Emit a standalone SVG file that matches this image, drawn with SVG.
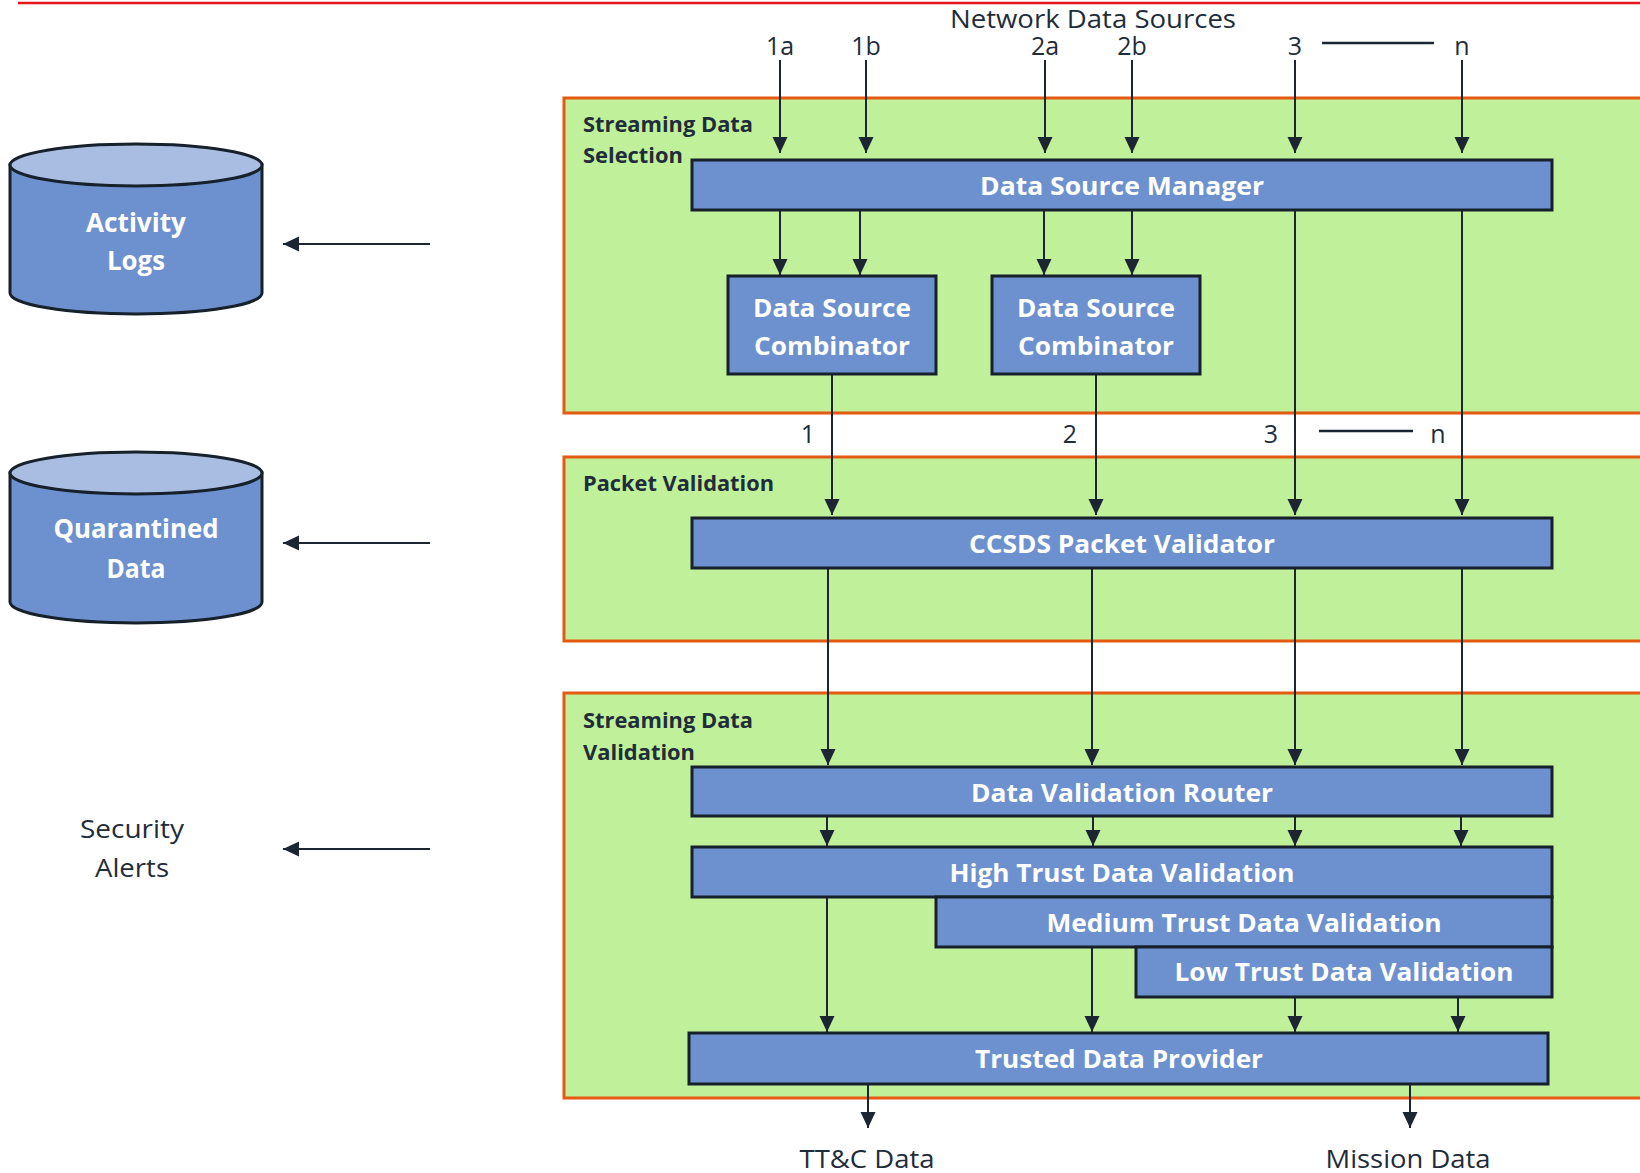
<svg xmlns="http://www.w3.org/2000/svg" width="1640" height="1173" viewBox="0 0 1640 1173">
<defs>
<style>
.sec{fill:#C0F09A;stroke:#E35A10;stroke-width:3}
.box{fill:#6D91CF;stroke:#17212B;stroke-width:3}
.bt{font-family:"Open Sans","Noto Sans",sans-serif;font-weight:bold;font-size:25px;fill:#FFFFFF;text-anchor:middle}
.ct{font-family:"Open Sans","Noto Sans",sans-serif;font-weight:bold;font-size:27px;fill:#FFFFFF;text-anchor:middle}
.st{font-family:"Open Sans","Noto Sans",sans-serif;font-weight:bold;font-size:21px;fill:#1F2D3A}
.lt{font-family:"Open Sans","Noto Sans",sans-serif;font-size:25px;fill:#1F2D3A;text-anchor:middle}
.cn{stroke:#1B2632;stroke-width:2;fill:none}
.ar{marker-end:url(#ah)}
.cyl{fill:#6D91CF;stroke:#17212B;stroke-width:3}
.cylt{fill:#A9BDE3;stroke:#17212B;stroke-width:3}
</style>
<marker id="ah" markerUnits="userSpaceOnUse" markerWidth="16" markerHeight="16" viewBox="0 0 16 16" refX="16" refY="8" orient="auto">
<path d="M0,0.5 L16,8 L0,15.5 z" fill="#1B2632"/>
</marker>
</defs>
<rect width="1640" height="1173" fill="#FFFFFF"/>
<line x1="18" y1="3" x2="1640" y2="3" stroke="#E8141B" stroke-width="2.5"/>

<g id="sections">
<rect id="sec-selection" class="sec" x="564" y="98" width="1100" height="315"/>
<rect id="sec-packet" class="sec" x="564" y="457" width="1100" height="184"/>
<rect id="sec-validation" class="sec" x="564" y="693" width="1100" height="405"/>
<text class="st" x="583" y="132" textLength="170" lengthAdjust="spacingAndGlyphs">Streaming Data</text>
<text class="st" x="583" y="163" textLength="100" lengthAdjust="spacingAndGlyphs">Selection</text>
<text class="st" x="583" y="491" textLength="191" lengthAdjust="spacingAndGlyphs">Packet Validation</text>
<text class="st" x="583" y="728" textLength="170" lengthAdjust="spacingAndGlyphs">Streaming Data</text>
<text class="st" x="583" y="760" textLength="112" lengthAdjust="spacingAndGlyphs">Validation</text>
</g>

<g id="labels">
<text class="lt" x="1093" y="28" textLength="286" lengthAdjust="spacingAndGlyphs">Network Data Sources</text>
<text class="lt" x="780" y="55">1a</text>
<text class="lt" x="866" y="55">1b</text>
<text class="lt" x="1045" y="55">2a</text>
<text class="lt" x="1132" y="55">2b</text>
<text class="lt" x="1295" y="55">3</text>
<text class="lt" x="1462" y="55">n</text>
<line x1="1322" y1="43" x2="1434" y2="43" stroke="#1B2632" stroke-width="2.5"/>
<text class="lt" x="808" y="443">1</text>
<text class="lt" x="1070" y="443">2</text>
<text class="lt" x="1271" y="443">3</text>
<text class="lt" x="1438" y="443">n</text>
<line x1="1319" y1="431" x2="1413" y2="431" stroke="#1B2632" stroke-width="2.5"/>
<text class="lt" x="867" y="1168" textLength="135" lengthAdjust="spacingAndGlyphs">TT&amp;C Data</text>
<text class="lt" x="1408" y="1168" textLength="165" lengthAdjust="spacingAndGlyphs">Mission Data</text>
</g>

<g id="connectors">
<path class="cn ar" d="M780,60 V153"/>
<path class="cn ar" d="M866,60 V153"/>
<path class="cn ar" d="M1045,60 V153"/>
<path class="cn ar" d="M1132,60 V153"/>
<path class="cn ar" d="M1295,60 V153"/>
<path class="cn ar" d="M1462,60 V153"/>
<path class="cn ar" d="M780,210 V275"/>
<path class="cn ar" d="M860,210 V275"/>
<path class="cn ar" d="M1044,210 V275"/>
<path class="cn ar" d="M1132,210 V275"/>
<path class="cn ar" d="M832,374 V515"/>
<path class="cn ar" d="M1096,374 V515"/>
<path class="cn ar" d="M1295,210 V515"/>
<path class="cn ar" d="M1462,210 V515"/>
<path class="cn ar" d="M828,568 V765"/>
<path class="cn ar" d="M1092,568 V765"/>
<path class="cn ar" d="M1295,568 V765"/>
<path class="cn ar" d="M1462,568 V765"/>
<path class="cn ar" d="M827,816 V846"/>
<path class="cn ar" d="M1093,816 V846"/>
<path class="cn ar" d="M1295,816 V846"/>
<path class="cn ar" d="M1461,816 V846"/>
<path class="cn ar" d="M827,897 V1032"/>
<path class="cn ar" d="M1092,945 V1032"/>
<path class="cn ar" d="M1295,995 V1032"/>
<path class="cn ar" d="M1458,995 V1032"/>
<path class="cn ar" d="M868,1084 V1128"/>
<path class="cn ar" d="M1410,1084 V1128"/>
<path class="cn ar" stroke-width="2.5" d="M430,244 H283"/>
<path class="cn ar" stroke-width="2.5" d="M430,543 H283"/>
<path class="cn ar" stroke-width="2.5" d="M430,849 H283"/>
</g>

<g id="node-dsm">
<rect class="box" x="692" y="160" width="860" height="50"/>
<text class="bt" x="1122" y="195" textLength="284" lengthAdjust="spacingAndGlyphs">Data Source Manager</text>
</g>
<g id="node-comb1">
<rect class="box" x="728" y="276" width="208" height="98"/>
<text class="bt" x="832" y="317" textLength="158" lengthAdjust="spacingAndGlyphs">Data Source</text>
<text class="bt" x="832" y="355" textLength="156" lengthAdjust="spacingAndGlyphs">Combinator</text>
</g>
<g id="node-comb2">
<rect class="box" x="992" y="276" width="208" height="98"/>
<text class="bt" x="1096" y="317" textLength="158" lengthAdjust="spacingAndGlyphs">Data Source</text>
<text class="bt" x="1096" y="355" textLength="156" lengthAdjust="spacingAndGlyphs">Combinator</text>
</g>
<g id="node-ccsds">
<rect class="box" x="692" y="518" width="860" height="50"/>
<text class="bt" x="1122" y="553" textLength="306" lengthAdjust="spacingAndGlyphs">CCSDS Packet Validator</text>
</g>
<g id="node-dvr">
<rect class="box" x="692" y="767" width="860" height="49"/>
<text class="bt" x="1122" y="802" textLength="302" lengthAdjust="spacingAndGlyphs">Data Validation Router</text>
</g>
<g id="node-high">
<rect class="box" x="692" y="847" width="860" height="50"/>
<text class="bt" x="1122" y="882" textLength="345" lengthAdjust="spacingAndGlyphs">High Trust Data Validation</text>
</g>
<g id="node-medium">
<rect class="box" x="936" y="897" width="616" height="50"/>
<text class="bt" x="1244" y="932" textLength="395" lengthAdjust="spacingAndGlyphs">Medium Trust Data Validation</text>
</g>
<g id="node-low">
<rect class="box" x="1136" y="947" width="416" height="50"/>
<text class="bt" x="1344" y="981" textLength="339" lengthAdjust="spacingAndGlyphs">Low Trust Data Validation</text>
</g>
<g id="node-tdp">
<rect class="box" x="689" y="1033" width="859" height="51"/>
<text class="bt" x="1119" y="1068" textLength="288" lengthAdjust="spacingAndGlyphs">Trusted Data Provider</text>
</g>

<g id="node-activity-logs">
<path class="cyl" d="M10,165 V293 A126,21 0 0 0 262,293 V165 Z"/>
<ellipse class="cylt" cx="136" cy="165" rx="126" ry="21"/>
<text class="ct" x="136" y="232" textLength="100" lengthAdjust="spacingAndGlyphs">Activity</text>
<text class="ct" x="136" y="270" textLength="58" lengthAdjust="spacingAndGlyphs">Logs</text>
</g>
<g id="node-quarantined">
<path class="cyl" d="M10,473 V602 A126,21 0 0 0 262,602 V473 Z"/>
<ellipse class="cylt" cx="136" cy="473" rx="126" ry="21"/>
<text class="ct" x="136" y="538" textLength="165" lengthAdjust="spacingAndGlyphs">Quarantined</text>
<text class="ct" x="136" y="578" textLength="59" lengthAdjust="spacingAndGlyphs">Data</text>
</g>
<g id="node-security-alerts">
<text class="lt" x="132" y="838" textLength="104" lengthAdjust="spacingAndGlyphs">Security</text>
<text class="lt" x="132" y="877" textLength="74" lengthAdjust="spacingAndGlyphs">Alerts</text>
</g>
</svg>
